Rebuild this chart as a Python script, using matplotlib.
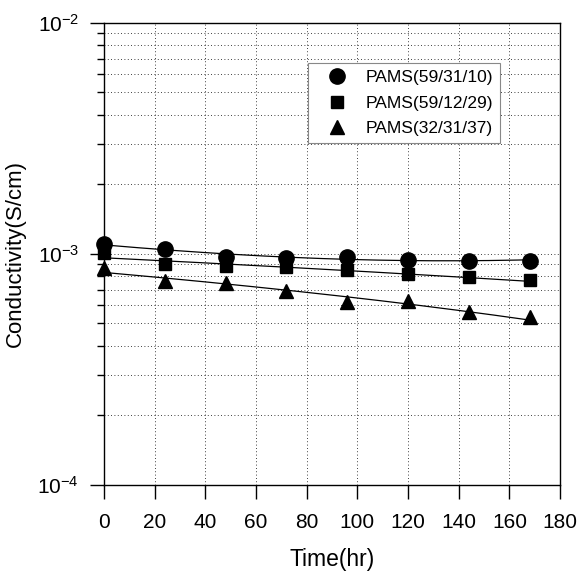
import numpy as np
import matplotlib
matplotlib.use("Agg")
import matplotlib.pyplot as plt
from matplotlib.ticker import LogLocator, FixedLocator, NullFormatter, FuncFormatter

plt.rcParams['font.family'] = ['Liberation Sans', 'DejaVu Sans']
plt.rcParams['mathtext.fontset'] = 'custom'
plt.rcParams['mathtext.rm'] = 'Liberation Sans'
plt.rcParams['mathtext.it'] = 'Liberation Sans'

# data
time_hr = [0, 24, 48, 72, 96, 120, 144, 168]
pams_59_31_10 = [1.10e-3, 1.05e-3, 0.97e-3, 0.96e-3, 0.97e-3, 0.94e-3, 0.935e-3, 0.935e-3]
pams_59_12_29 = [1.005e-3, 0.90e-3, 0.882e-3, 0.873e-3, 0.848e-3, 0.817e-3, 0.794e-3, 0.767e-3]
pams_32_31_37 = [0.865e-3, 0.76e-3, 0.745e-3, 0.688e-3, 0.617e-3, 0.623e-3, 0.558e-3, 0.533e-3]

labels = ["PAMS(59/31/10)", "PAMS(59/12/29)", "PAMS(32/31/37)"]
x_ticks = [0, 20, 40, 60, 80, 100, 120, 140, 160, 180]

fig = plt.figure(figsize=(5.81, 5.73), dpi=100)
ax = fig.add_axes([0.179, 0.154, 0.785, 0.806])

t = np.array(time_hr)
tt = np.linspace(0, 168, 200)

# fitted curves: quadratic for the first set, straight lines for the others
series = [(pams_59_31_10, 'o', 11, 2), (pams_59_12_29, 's', 9, 1), (pams_32_31_37, '^', 9.5, 1)]
for (vals, mk, ms, deg), lab in zip(series, labels):
    v = np.array(vals)
    coef = np.polyfit(t, v, deg)
    ax.plot(tt, np.polyval(coef, tt), color='black', lw=0.9)
    ax.plot(t, v, linestyle='none', marker=mk, ms=ms, color='black', label=lab, clip_on=False)

ax.set_yscale('log')
ax.set_xlim(0, 180)
ax.set_ylim(1e-4, 1e-2)
ax.xaxis.set_major_locator(FixedLocator(x_ticks))
ax.yaxis.set_major_locator(LogLocator(base=10))
ax.yaxis.set_minor_locator(LogLocator(base=10, subs=np.arange(2, 10)))
ax.yaxis.set_minor_formatter(NullFormatter())
ax.yaxis.set_major_formatter(FuncFormatter(lambda v, p: r'$10^{%d}$' % round(np.log10(v))))

ax.grid(True, which='major', linestyle=(0, (1, 3)), color='black', lw=0.6)
ax.grid(True, which='minor', axis='y', linestyle=(0, (1, 3)), color='black', lw=0.6)

ax.tick_params(which='major', direction='out', length=10, width=1, labelsize=15, pad=8)
ax.tick_params(which='minor', direction='out', length=5, width=1)
ax.tick_params(axis='x', pad=10)
for s in ax.spines.values():
    s.set_linewidth(1)

ax.set_xlabel("Time(hr)", fontsize=16.5, labelpad=12)
ax.set_ylabel("Conductivity(S/cm)", fontsize=16, labelpad=8)

leg = ax.legend(loc='upper left', bbox_to_anchor=(0.447, 0.913), fontsize=12.5,
                frameon=True, fancybox=False, edgecolor='#888888', framealpha=1,
                borderpad=0.4, handletextpad=0.4, labelspacing=0.6, handlelength=2.5,
                borderaxespad=0)
leg.get_frame().set_linewidth(0.8)

plt.savefig("out.png", dpi=100)
